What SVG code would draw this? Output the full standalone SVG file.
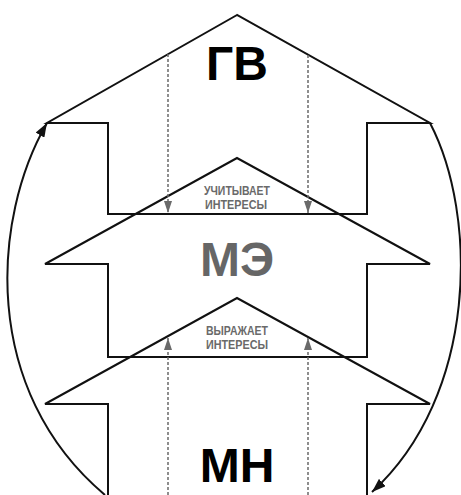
<svg xmlns="http://www.w3.org/2000/svg" width="461" height="495" viewBox="0 0 461 495">
<style>
.shape{fill:none;stroke:#111;stroke-width:2;stroke-linejoin:miter}
.big{font-family:"Liberation Sans",Arial,sans-serif;font-weight:bold;font-size:48px;text-anchor:middle}
.small{font-family:"Liberation Sans",Arial,sans-serif;font-weight:bold;font-size:12.5px;text-anchor:middle;fill:#6a6a6a}
.dash{fill:none;stroke:#6a6a6a;stroke-width:1.5;stroke-dasharray:3 2}
.curve{fill:none;stroke:#111;stroke-width:2}
</style>
<defs>
<marker id="grayHead" viewBox="0 0 12 8" refX="12" refY="4" markerWidth="12" markerHeight="8" markerUnits="userSpaceOnUse" orient="auto">
<path d="M0,0 L12,4 L0,8 Z" fill="#6a6a6a"/>
</marker>
<marker id="blackHead" viewBox="0 0 14 10" refX="14" refY="5" markerWidth="14" markerHeight="10" markerUnits="userSpaceOnUse" orient="auto">
<path d="M0,0 L14,5 L0,10 Z" fill="#111"/>
</marker>
</defs>
<rect width="461" height="495" fill="#fff"/>
<g id="node-gv">
<polygon class="shape" points="237,15 47,123 108,123 108,214 367,214 367,123 430,123"/>
<text class="big" x="237" y="80" fill="#000">ГВ</text>
</g>
<g id="node-me">
<polygon class="shape" points="237,158 45,264 108,264 108,357 367,357 367,264 430,264"/>
<text class="big" x="237" y="276" fill="#666">МЭ</text>
<text class="small" x="237" y="195" textLength="66" lengthAdjust="spacingAndGlyphs">УЧИТЫВАЕТ</text>
<text class="small" x="236" y="209" textLength="62" lengthAdjust="spacingAndGlyphs">ИНТЕРЕСЫ</text>
</g>
<g id="node-mn">
<polyline class="shape" points="108,500 108,404 45,404 237,298 430,404 367,404 367,500"/>
<text class="big" x="237" y="482" fill="#000">МН</text>
<text class="small" x="237" y="335" textLength="62" lengthAdjust="spacingAndGlyphs">ВЫРАЖАЕТ</text>
<text class="small" x="237" y="349" textLength="62" lengthAdjust="spacingAndGlyphs">ИНТЕРЕСЫ</text>
</g>
<g id="connectors">
<line class="dash" x1="168" y1="54" x2="168" y2="213" marker-end="url(#grayHead)"/>
<line class="dash" x1="308" y1="55" x2="308" y2="213" marker-end="url(#grayHead)"/>
<line class="dash" x1="168" y1="495" x2="168" y2="338" marker-end="url(#grayHead)"/>
<line class="dash" x1="308" y1="495" x2="308" y2="338" marker-end="url(#grayHead)"/>
<path class="curve" d="M105,495 C-20,390 -8,218 47,123" marker-end="url(#blackHead)"/>
<path class="curve" d="M430,123 C478,215 478,395 372,492" marker-end="url(#blackHead)"/>
</g>
</svg>
